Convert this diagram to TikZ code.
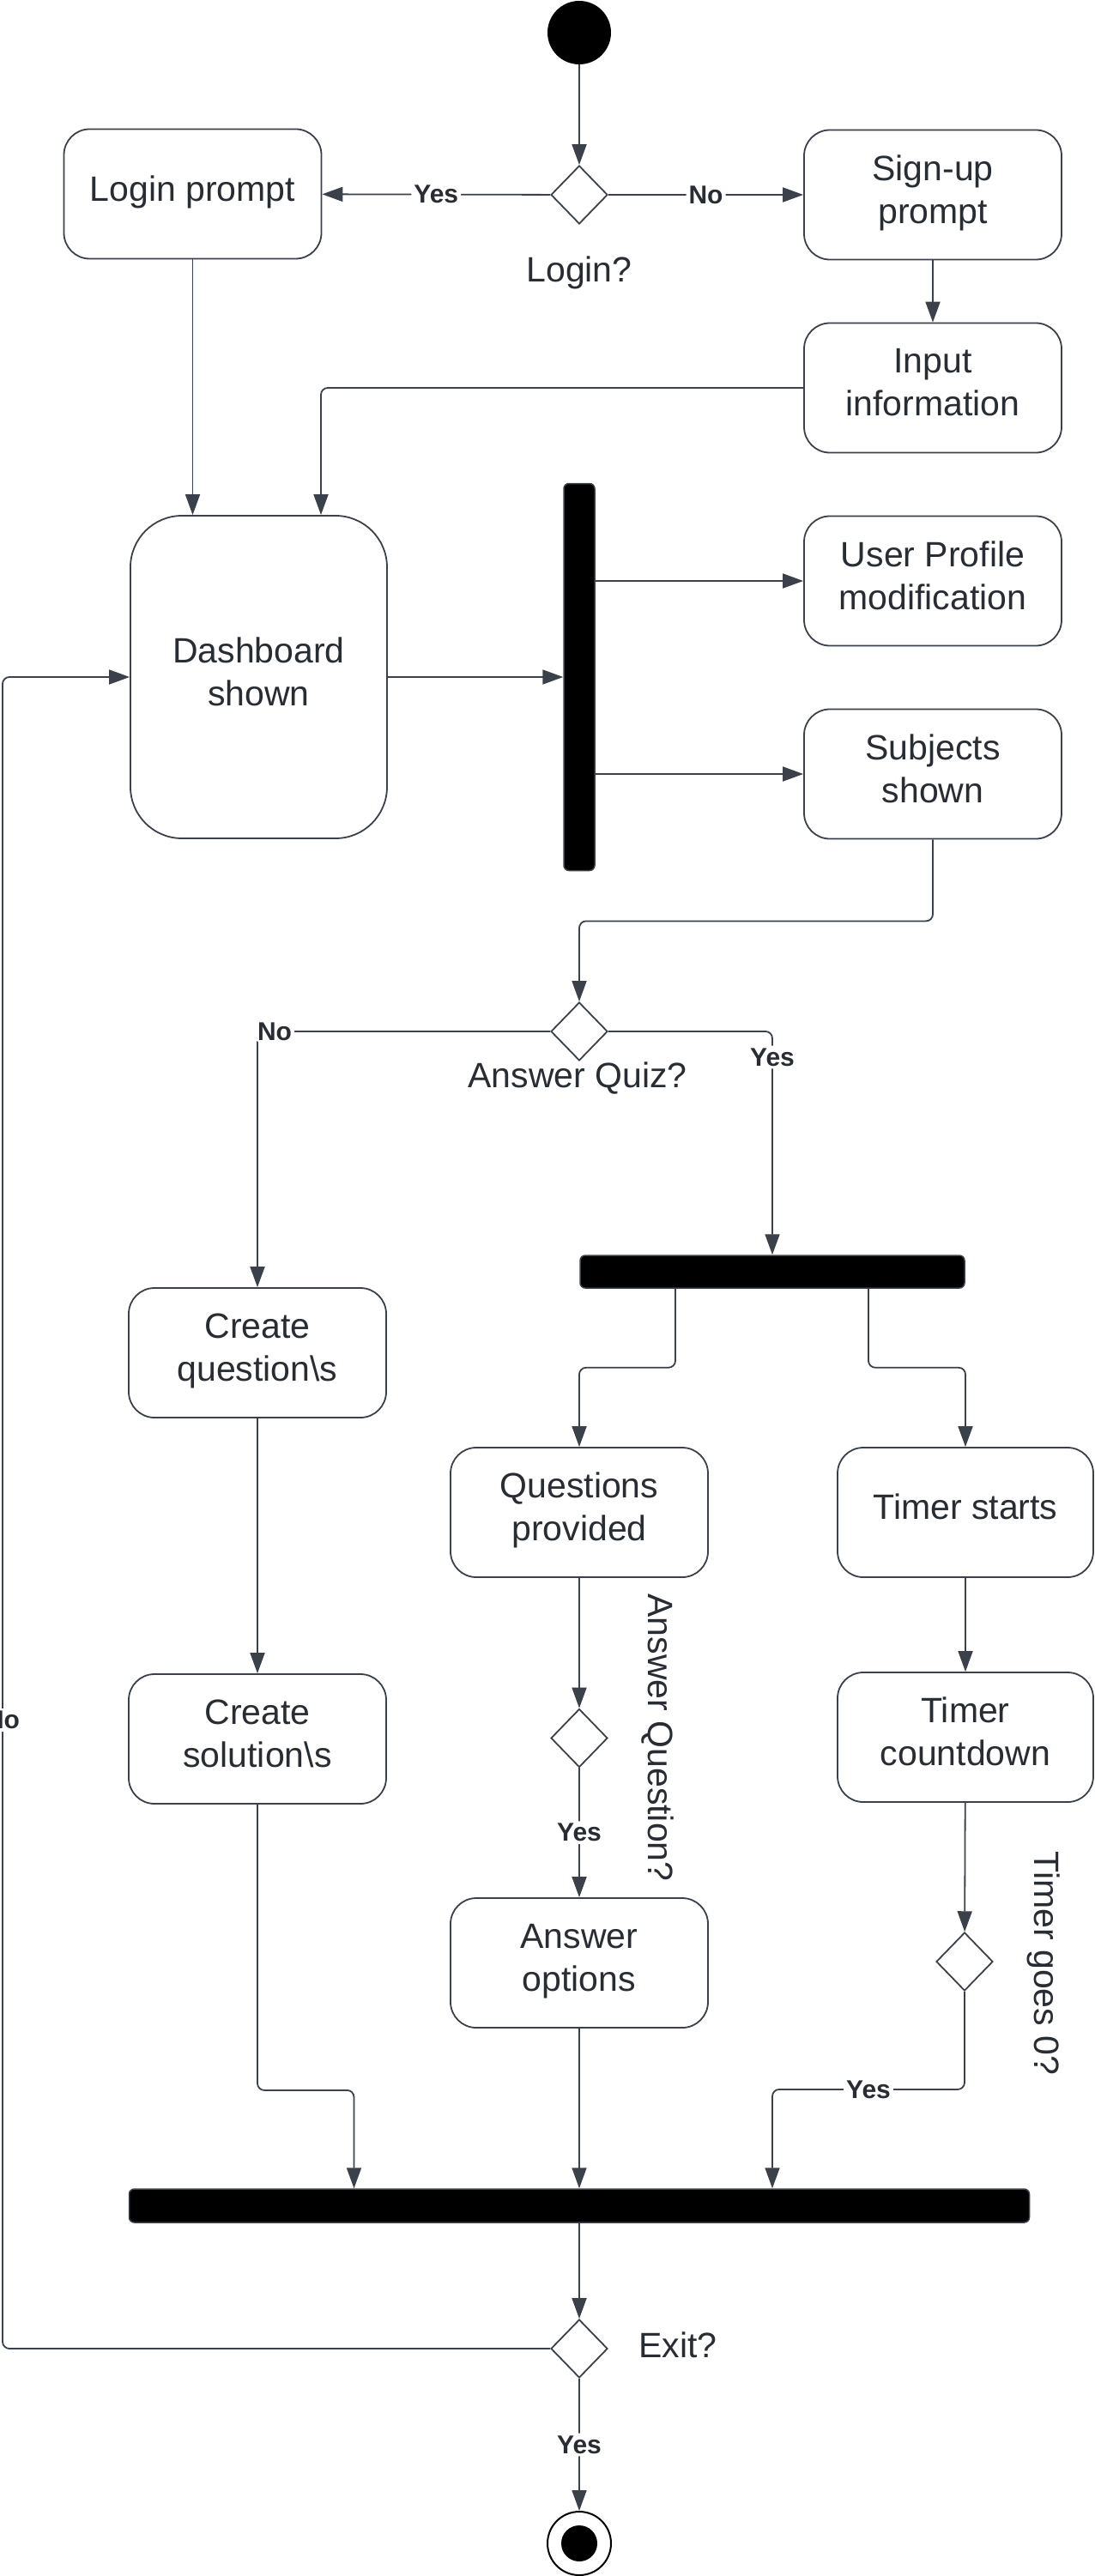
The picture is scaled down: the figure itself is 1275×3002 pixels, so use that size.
\documentclass[tikz,border=0pt]{standalone}
\usepackage{fontspec}
\setmainfont{Liberation Sans}
\usepackage{tikz}
\usetikzlibrary{calc}
\usetikzlibrary{shapes.geometric}
\usetikzlibrary{arrows.meta}
\definecolor{edge}{HTML}{3A414A}
\definecolor{ink}{HTML}{282C33}

\begin{document}
\begin{tikzpicture}[x=1pt, y=-1pt,
		>={Triangle[length=24pt,width=17pt]},
		act/.style={rectangle, rounded corners=30pt, draw=edge, line width=1.8pt, fill=white, text=ink, minimum width=300pt, minimum height=151pt, inner sep=0pt, align=center, font=\fontsize{41}{50}\selectfont, execute at end node={\rule[-13pt]{0pt}{13pt}}},
		choice/.style={diamond, draw=edge, line width=1.8pt, fill=white, minimum width=66pt, minimum height=68pt, inner sep=0pt},
		bar/.style={rectangle, rounded corners=6pt, fill=black, draw=edge, line width=1.5pt, inner sep=0pt},
		txt/.style={text=ink, inner sep=0pt, font=\fontsize{41}{50}\selectfont},
		lbl/.style={fill=white, text=ink, inner sep=3pt, font=\bfseries\fontsize{30}{36}\selectfont},
		flow/.style={draw=edge, line width=1.8pt, rounded corners=8pt}]
			\useasboundingbox (0,0) rectangle (1275,3002);
			
			\node[circle, fill=black, minimum size=74pt, inner sep=0pt] (0) at (675,38) {};
			\node[choice] (1) at (675,227) {};
			\node[txt] (2) at (675,318) {Login?};
			\node[act] (3) at (224.5,226) {Login prompt};
			\node[act] (4) at (1087,227) {Sign-up\\prompt};
			\node[act] (5) at (1087,452) {Input\\information};
			\node[act, rounded corners=60pt, minimum width=299pt, minimum height=376pt] (6) at (301.5,789) {Dashboard\\shown};
			\node[bar, minimum width=36pt, minimum height=451pt] (7) at (675,789) {};
			\node[act] (8) at (1087,677) {User Profile\\modification};
			\node[act] (9) at (1087,902) {Subjects\\shown};
			\node[choice] (10) at (675,1202) {};
			\node[txt] (A) at (673,1257) {Answer Quiz?};
			\node[bar, minimum width=448pt, minimum height=38pt] (11) at (900,1482) {};
			\node[act] (12) at (300,1576.5) {Create\\question\textbackslash s};
			\node[act] (13) at (675,1762.5) {Questions\\provided};
			\node[act, minimum width=298pt] (14) at (1125,1762.5) {Timer starts};
			\node[act] (15) at (300,2026.5) {Create\\solution\textbackslash s};
			\node[choice] (16) at (675,2025.5) {};
			\node[txt, rotate=-90] (B) at (766,2025) {Answer Question?};
			\node[act, minimum width=298pt] (17) at (1125,2024.5) {Timer\\countdown};
			\node[act] (18) at (675,2287.5) {Answer\\options};
			\node[choice] (19) at (1124,2286) {};
			\node[txt, rotate=-90] (C) at (1216,2288) {Timer goes 0?};
			\node[bar, minimum width=1049pt, minimum height=39pt] (20) at (675,2570.5) {};
			\node[choice] (21) at (675,2737) {};
			\node[txt, anchor=west] (D) at (744,2733) {Exit?};
			\node[circle, draw=black, line width=2pt, fill=white, minimum size=74pt, inner sep=0pt] (22) at (675,2964) {};
			\node[circle, fill=black, minimum size=42pt, inner sep=0pt] (23) at (22) {};
			\coordinate (L) at (3,0);
			
			\draw[flow, ->] (0) -- (1);
			\draw[flow, ->] (1) -- (3) node[lbl, midway] {Yes};
			\draw[flow, ->] (1) -- (4) node[lbl, midway] {No};
			\draw[flow, ->] (4) -- (5);
			\draw[flow, ->] (3) -- (3 |- 6.north);
			\draw[flow, ->] (5) -| ([xshift=72.5pt]6.north);
			
			\draw[flow, ->] (6) -- (7);
			\draw[flow, ->] (7.east |- 8) -- (8);
			\draw[flow, ->] (7.east |- 9) -- (9);
			\draw[flow, ->] (9.south) -- ++(0,95) -| (10);
			
			\draw[flow, ->] (10) -| (12) node[lbl, pos=0.5, xshift=20pt] {No};
			\draw[flow, ->] (10) -| (11) node[lbl, pos=0.5, yshift=-30pt] {Yes};
			\draw[flow, ->] ([xshift=-113pt]11.south) -- ++(0,92) -| (13);
			\draw[flow, ->] ([xshift=112pt]11.south) -- ++(0,92) -| (14);
			
			\draw[flow, ->] (12) -- (15);
			\draw[flow, ->] (13) -- (16);
			\draw[flow, ->] (16) -- (18) node[lbl, midway] {Yes};
			\draw[flow, ->] (14) -- (17);
			\draw[flow, ->] (17) -- (19);
			
			\draw[flow, ->] (15.south) -- ++(0,333) -| ([xshift=-262.5pt]20.north);
			\draw[flow, ->] (18) -- (20);
			\draw[flow, ->] (19.south) -- ++(0,114) -| ([xshift=225pt]20.north) node[lbl, pos=0.25] {Yes};
			\draw[flow, ->] (20) -- (21);
			\draw[flow, ->] (21) -- (22) node[lbl, midway] {Yes};
			\draw[flow, ->] (21) -- (21 -| L) |- (6) node[lbl, pos=0.188] {No};
		\end{tikzpicture}
\end{document}
